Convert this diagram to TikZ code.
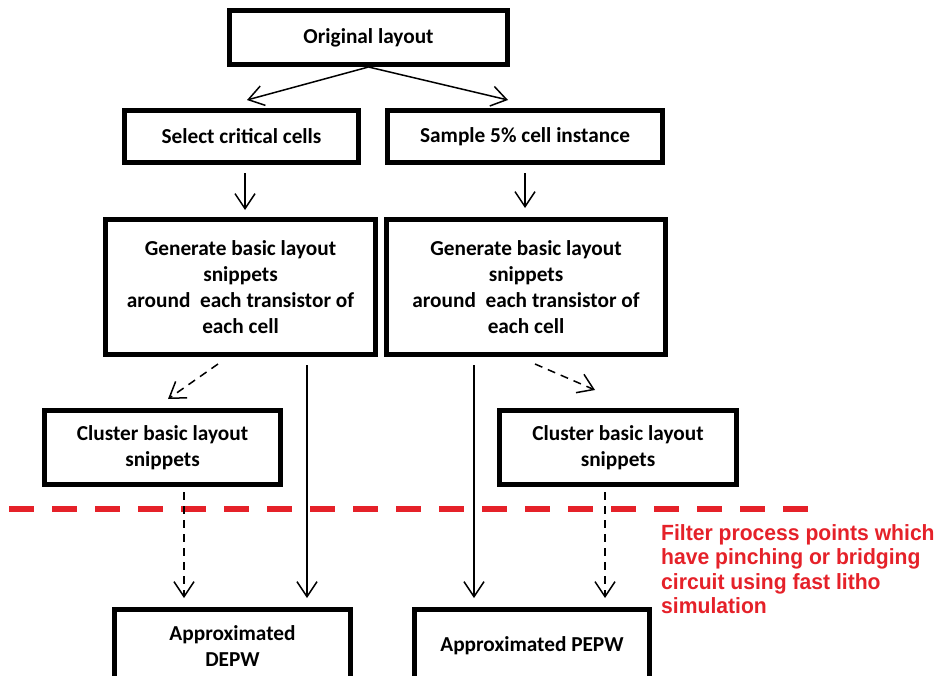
\documentclass[tikz,border=0pt]{standalone}
\usepackage{fontspec}
\setmainfont{Carlito}
\newfontfamily\notefont[FakeStretch=0.96]{Liberation Sans}
\usetikzlibrary{arrows.meta,positioning,calc}
\definecolor{filterRed}{HTML}{E52129}
\tikzset{
  stepbox/.style={draw=black, line width=5pt, fill=white, align=center, inner sep=0pt,
    font=\fontsize{21.3}{26}\selectfont\bfseries},
  arc/.style={-{Straight Barb[length=15pt,width=20pt]}, line width=1.5pt},
  dashArc/.style={arc, dash pattern=on 8pt off 6pt},
  cutLine/.style={draw=filterRed, line width=6pt, dash pattern=on 25pt off 18pt},
  noteText/.style={font=\notefont\fontsize{22}{24.5}\selectfont\bfseries, text=filterRed,
    align=left, anchor=north west, inner sep=0pt},
}

\begin{document}
\begin{tikzpicture}[x=1pt, y=-1pt]
    \useasboundingbox (0,0) rectangle (939,675);
    \clip (0,0) rectangle (939,675);
    % flow boxes
    \node[stepbox, minimum width=278pt, minimum height=54pt] (orig) at (368.5,37.5) {Original layout};
    \node[stepbox, minimum width=234pt, minimum height=52pt] (select) at (241.5,136.5) {Select critical cells};
    \node[stepbox, minimum width=275pt, minimum height=52pt] (sample) at (525,136.5) {Sample 5\% cell instance};
    \node[stepbox, minimum width=270pt, minimum height=135pt] (genL) at (240.5,287) {Generate basic layout\\snippets\\around\ \ each transistor of\\each cell};
    \node[stepbox, minimum width=279pt, minimum height=135pt] (genR) at (526,287) {Generate basic layout\\snippets\\around\ \ each transistor of\\each cell};
    \node[stepbox, minimum width=236pt, minimum height=74pt] (clusterL) at (162.5,447.5) {Cluster basic layout\\snippets};
    \node[stepbox, minimum width=237pt, minimum height=74pt] (clusterR) at (618,447.5) {Cluster basic layout\\snippets};
    \node[stepbox, minimum width=236pt, minimum height=73pt] (depw) at (232.5,646) {Approximated\\DEPW};
    \node[stepbox, minimum width=235pt, minimum height=73pt] (pepw) at (532,646) {Approximated PEPW};
    % filter line and note
    \coordinate (cutA) at (9,509);
    \coordinate (cutB) at (808,509);
    \draw[cutLine] (cutA) -- (cutB);
    \node[noteText] (filterNote) at (661,524) {Filter process points which\\have pinching or bridging\\circuit using fast litho\\simulation};
    % arrows
    \draw[arc] (orig.south) -- ([xshift=5.5pt,yshift=8pt]select.north);
    \draw[arc] (orig.south) -- ([xshift=-17pt,yshift=8pt]sample.north);
    \draw[arc] ([xshift=3.5pt,yshift=-8pt]select.south) -- ([xshift=4.5pt,yshift=7pt]genL.north);
    \draw[arc] ([yshift=-8pt]sample.south) -- ([xshift=-1pt,yshift=9pt]genR.north);
    \draw[dashArc] ([xshift=-22.5pt,yshift=-7pt]genL.south) -- ([xshift=5.5pt,yshift=9pt]clusterL.north);
    \draw[dashArc] ([xshift=9pt,yshift=-7pt]genR.south) -- ([xshift=-23pt,yshift=18pt]clusterR.north);
    \coordinate (sL) at ([xshift=66.5pt,yshift=-8pt]genL.south);
    \coordinate (sR) at ([xshift=-52pt,yshift=-8pt]genR.south);
    \coordinate (dL) at ([xshift=21.5pt,yshift=-5pt]clusterL.south);
    \coordinate (dR) at ([xshift=-13pt,yshift=-5pt]clusterR.south);
    \draw[arc, shorten >=9pt] (sL) -- (sL |- depw.north);
    \draw[arc, shorten >=9pt] (sR) -- (sR |- pepw.north);
    \draw[dashArc, shorten >=9pt] (dL) -- (dL |- depw.north);
    \draw[dashArc, shorten >=9pt] (dR) -- (dR |- pepw.north);
\end{tikzpicture}
\end{document}
